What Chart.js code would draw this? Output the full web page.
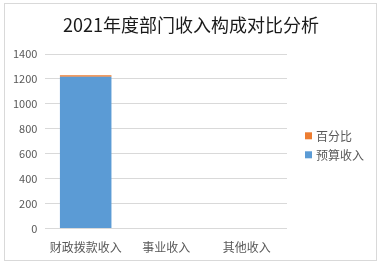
<!DOCTYPE html>
<html><head><meta charset="utf-8">
<script src="https://cdn.jsdelivr.net/npm/chart.js@4"></script>
<style>
html,body{margin:0;padding:0;background:#fff;}
#wrap{position:relative;width:382px;height:266px;}
#frame{position:absolute;left:4px;top:3px;width:371px;height:256px;border:1px solid #d9d9d9;pointer-events:none;}
canvas{position:absolute;left:0;top:0;}
</style></head>
<body>
<div id="wrap"><canvas id="c" width="382" height="266"></canvas><div id="frame"></div></div>
<script>
const titleText = '2021年度部门收入构成对比分析';
const categories = ['财政拨款收入', '事业收入', '其他收入'];
const budgetIncome = [1218, 0, 0];
const percentage = [12, 0, 0];
const yTicks = [0, 200, 400, 600, 800, 1000, 1200, 1400];

const FONT = '"Noto Sans CJK SC", "Noto Sans", sans-serif';

// Title centred on the whole frame
const frameTitle = {
  id: 'frameTitle',
  afterDraw(chart) {
    const ctx = chart.ctx;
    ctx.save();
    ctx.font = '18px ' + FONT;
    ctx.fillStyle = '#1a1a1a';
    ctx.textAlign = 'center';
    ctx.textBaseline = 'middle';
    ctx.fillText(titleText, chart.width / 2, 25);
    ctx.restore();
  }
};

// Legend drawn to the right of the plot, items in reverse order (Excel stacked style)
const sideLegend = {
  id: 'sideLegend',
  afterDraw(chart) {
    const ctx = chart.ctx;
    const ds = chart.data.datasets.slice().reverse();
    const x0 = chart.chartArea.right + 18;
    const yc = (chart.chartArea.top + chart.chartArea.bottom) / 2;
    const gap = 19;
    const startY = yc - 5.5;
    ctx.save();
    ctx.font = '12px ' + FONT;
    ctx.textBaseline = 'middle';
    ds.forEach((d, i) => {
      const y = startY + i * gap;
      ctx.fillStyle = d.backgroundColor;
      ctx.fillRect(x0, y - 3.5, 7, 7);
      ctx.fillStyle = '#595959';
      ctx.fillText(d.label, x0 + 11, y + 0.5);
    });
    ctx.restore();
  }
};

new Chart(document.getElementById('c'), {
  type: 'bar',
  data: {
    labels: categories,
    datasets: [
      { label: '预算收入', data: budgetIncome, backgroundColor: '#5b9bd5', categoryPercentage: 1, barPercentage: 0.64 },
      { label: '百分比', data: percentage, backgroundColor: '#ed7d31', categoryPercentage: 1, barPercentage: 0.64 }
    ]
  },
  plugins: [frameTitle, sideLegend],
  options: {
    responsive: false,
    animation: false,
    devicePixelRatio: 1,
    layout: { padding: { left: 5, right: 95, top: 54, bottom: 7 } },
    plugins: {
      title: { display: false },
      legend: { display: false },
      tooltip: { enabled: false }
    },
    scales: {
      x: {
        stacked: true,
        grid: { display: false },
        border: { display: false },
        ticks: { color: '#595959', font: { family: FONT, size: 12 }, padding: 4, maxRotation: 0 }
      },
      y: {
        stacked: true,
        min: yTicks[0], max: yTicks[yTicks.length - 1],
        afterBuildTicks: (ax) => { ax.ticks = yTicks.map(v => ({ value: v })); },
        grid: { color: '#d9d9d9', drawTicks: false },
        border: { display: false },
        ticks: { color: '#595959', font: { family: FONT, size: 11 }, padding: 8, callback: (v) => String(v) }
      }
    }
  }
});
</script>
</body></html>
